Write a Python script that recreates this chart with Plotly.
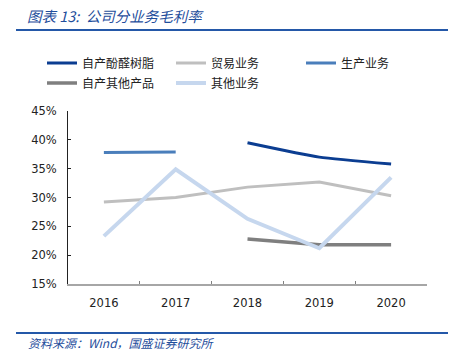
import plotly.graph_objects as go

years = ["2016", "2017", "2018", "2019", "2020"]
resin = [None, None, 39.5, 37.0, 35.8]          # 自产酚醛树脂
trade = [29.2, 30.0, 31.8, 32.7, 30.3]          # 贸易业务
production = [37.8, 37.9, None, None, None]     # 生产业务
other_products = [None, None, 22.8, 21.8, 21.8] # 自产其他产品
other_business = [23.3, 34.9, 26.3, 21.2, 33.5] # 其他业务

yticks = [15, 20, 25, 30, 35, 40, 45]
ytick_labels = [f"{v}%" for v in yticks]

W, H = 453, 363
L, R, T, B = 68, 26, 111, 79
pw, ph = W - L - R, H - T - B

def px_x(x):
    return (x - L) / pw

def px_y(y):
    return (H - B - y) / ph

FONT = "DejaVu Sans, Verdana, sans-serif"
CJK = "Noto Sans CJK SC"

fig = go.Figure()
# name, values, colour, width, legend id, legend pixel position (x, y), shape
series = [
    ("自产酚醛树脂", resin, "#0b3d91", 3, "legend", (42, 63), "spline"),
    ("贸易业务", trade, "#bfbfbf", 3, "legend2", (171, 63), "linear"),
    ("生产业务", production, "#4a7ebb", 3, "legend3", (301, 63), "linear"),
    ("自产其他产品", other_products, "#7f7f7f", 3.5, "legend4", (42, 83), "linear"),
    ("其他业务", other_business, "#c6d7ee", 4, "legend5", (171, 83), "linear"),
]
legends = {}
for name, vals, color, width, lg, pos, shape in series:
    fig.add_trace(go.Scatter(
        x=years, y=vals, name=name, mode="lines",
        line=dict(color=color, width=width, shape=shape, smoothing=0.5),
        connectgaps=False, legend=lg,
    ))
    legends[lg] = dict(
        orientation="h", xref="paper", yref="paper", xanchor="left", yanchor="middle",
        x=px_x(pos[0]), y=px_y(pos[1]),
        font=dict(family=CJK, size=12, color="#222"),
        bgcolor="rgba(0,0,0,0)", itemwidth=30,
    )

fig.update_layout(
    width=W, height=H,
    margin=dict(l=L, r=R, t=T, b=B, autoexpand=False),
    paper_bgcolor="white", plot_bgcolor="white",
    showlegend=True,
    **legends,
    xaxis=dict(
        type="category", range=[-0.5, 4.5], showgrid=False,
        showline=True, linecolor="#a6a6a6", linewidth=1.5,
        ticks="inside", ticklen=3, tickcolor="#808080", tickson="boundaries",
        tickfont=dict(family=FONT, size=11.5, color="#222"),
        ticklabelstandoff=7,
    ),
    yaxis=dict(
        range=[15, 45], tickvals=yticks, ticktext=ytick_labels, showgrid=False,
        showline=True, linecolor="#222", linewidth=1,
        ticks="inside", ticklen=3, tickcolor="#222",
        tickfont=dict(family=FONT, size=11.5, color="#222"),
        zeroline=False, ticklabelstandoff=8,
    ),
    shapes=[
        dict(type="line", xref="paper", yref="paper", x0=px_x(16), x1=px_x(448),
             y0=px_y(30), y1=px_y(30), line=dict(color="#2458a8", width=2)),
        dict(type="line", xref="paper", yref="paper", x0=px_x(16), x1=px_x(448),
             y0=px_y(333), y1=px_y(333), line=dict(color="#2458a8", width=2)),
    ],
    annotations=[
        dict(text="<i>图表 13:  公司分业务毛利率</i>", xref="paper", yref="paper",
             x=px_x(25), y=px_y(15), xanchor="left", yanchor="middle", showarrow=False,
             font=dict(family=CJK, size=14.5, color="#1f4e9c")),
        dict(text="<i>资料来源：Wind，国盛证券研究所</i>", xref="paper", yref="paper",
             x=px_x(26), y=px_y(342), xanchor="left", yanchor="middle", showarrow=False,
             font=dict(family=CJK, size=12, color="#1f4e9c")),
    ],
)

fig.write_html("out.html", config={"displayModeBar": False},
               post_script="document.body.style.margin='0';")
